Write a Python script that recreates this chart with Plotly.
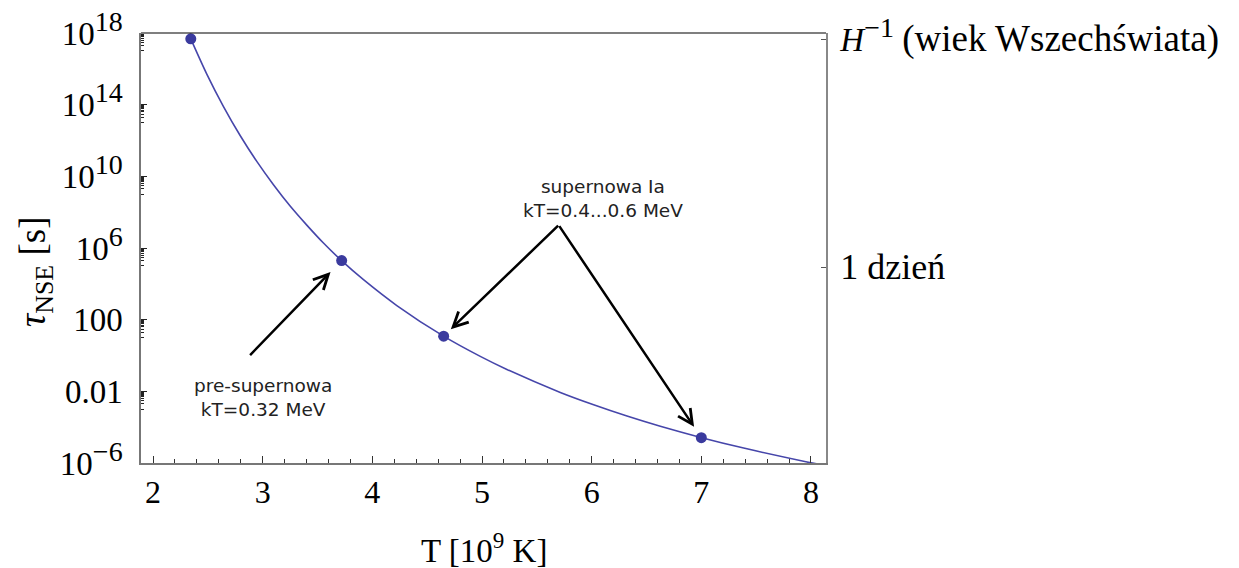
import plotly.graph_objects as go
import math

# Curve samples: temperature [10^9 K] and tau_NSE [s]
T_curve = [2.344, 2.49, 2.641, 2.794, 2.946, 3.098, 3.25, 3.402, 3.554, 3.722,
           3.919, 4.223, 4.649, 4.984, 5.227, 5.714, 6.018, 6.322, 6.626, 7.012,
           7.386, 7.964, 8.05]
tau_curve = [4.7e17, 5.1e15, 8.1e13, 1.9e12, 6.8e10, 3.4e9, 2.2e8, 1.9e7, 1.9e6, 1.9e5,
             1.7e4, 615, 12.0, 0.89, 0.166, 8.7e-3, 1.78e-3, 4.17e-4, 1.12e-4, 2.5e-5,
             6.8e-6, 1.15e-6, 9.1e-7]

# Marked points
T_points = [2.344, 3.72, 4.65, 7.0]
tau_points = [4.7e17, 2.0e5, 12.0, 2.6e-5]

# Axis ticks
x_ticks = [2, 3, 4, 5, 6, 7, 8]
y_tickvals = [1e18, 1e14, 1e10, 1e6, 100, 0.01, 1e-6]
SUP = "<sup><span style='font-size:28px'>{}</span></sup>"
y_ticktext = ["10" + SUP.format("18"), "10" + SUP.format("14"), "10" + SUP.format("10"),
              "10" + SUP.format("6"), "100", "0.01", "10" + SUP.format("−6")]
right_tickvals = [4.4e17, 86400]
right_ticktext = ["<i>H</i><sup><span style='font-size:28px'>−1</span></sup> "
                  "<span style='font-size:37px'>(wiek Wszechświata)</span>",
                  "<span style='font-size:36px'>1 dzień</span>"]

# minor ticks below each labelled decade
y_minor = []
for v in y_tickvals:
    k = round(math.log10(v))
    for m in range(1, 10):
        y_minor.append(m * 10 ** (k - 1))

line_col = "#4646AA"
dot_col = "#3A3A9E"
serif = "Liberation Serif, DejaVu Serif, serif"

fig = go.Figure()
fig.add_trace(go.Scatter(x=T_curve, y=tau_curve, mode="lines",
                         line=dict(color=line_col, width=1.6, shape="spline", smoothing=0.8),
                         showlegend=False, hoverinfo="skip"))
fig.add_trace(go.Scatter(x=T_points, y=tau_points, mode="markers",
                         marker=dict(color=dot_col, size=11),
                         showlegend=False))
# invisible trace to activate right axis
fig.add_trace(go.Scatter(x=[T_points[0]], y=[tau_points[0]], yaxis="y2", mode="markers",
                         marker=dict(opacity=0), showlegend=False, hoverinfo="skip"))

fig.update_layout(
    width=1239, height=568,
    margin=dict(l=141, r=413, t=33, b=105, autoexpand=False),
    plot_bgcolor="white", paper_bgcolor="white",
    xaxis=dict(range=[1.89, 8.137], tickvals=x_ticks, ticks="inside", ticklen=7,
               tickcolor="#333", tickwidth=1, showline=True, linecolor="#777",
               linewidth=1.5, showgrid=False, zeroline=False, automargin=False,
               tickfont=dict(family=serif, size=32, color="black"),
               minor=dict(dtick=0.2, tick0=2, ticks="inside", ticklen=4, tickcolor="#333",
                          showgrid=False)),
    yaxis=dict(type="log", range=[-6, 18], tickvals=y_tickvals, ticktext=y_ticktext,
               ticks="inside", ticklen=6, tickcolor="#222", showline=True, linecolor="#777",
               linewidth=1.5, showgrid=False, zeroline=False, automargin=False,
               tickfont=dict(family=serif, size=33, color="black"),
               ticklabelstandoff=10,
               minor=dict(tickmode="array", tickvals=y_minor, ticks="inside", ticklen=3,
                          tickcolor="#222", showgrid=False)),
    yaxis2=dict(type="log", range=[-6, 18], overlaying="y", side="right",
                tickvals=right_tickvals, ticktext=right_ticktext, ticks="inside",
                ticklen=5, tickcolor="#555", showline=True, linecolor="#888",
                linewidth=1.5, showgrid=False, zeroline=False, automargin=False,
                tickfont=dict(family=serif, size=33, color="black"),
                ticklabelstandoff=6),
)

# top frame line
fig.add_shape(type="line", xref="paper", yref="paper", x0=0, x1=1, y0=1, y1=1,
              line=dict(color="black", width=1.2))

sans = "DejaVu Sans, sans-serif"
fig.add_annotation(x=3.004, y=-2.35, xref="x", yref="y",
                   text="pre-supernowa<br>kT=0.32 MeV", showarrow=False,
                   font=dict(family=sans, size=18.5, color="#222"))
fig.add_annotation(x=6.1, y=8.75, xref="x", yref="y",
                   text="supernowa Ia<br>kT=0.4...0.6 MeV", showarrow=False,
                   font=dict(family=sans, size=18.5, color="#222"))

arrow_specs = [(1, -93, 96, 16), (2, 116, -112, 10), (3, -143, -213, 13)]
for i, ax, ay, so in arrow_specs:
    fig.add_annotation(x=T_points[i], y=math.log10(tau_points[i]), xref="x", yref="y",
                       ax=ax, ay=ay, text="", showarrow=True, arrowhead=5,
                       arrowsize=1.15, arrowwidth=2.5, arrowcolor="black", standoff=so)

fig.add_annotation(x=0, y=0.5, xref="paper", yref="paper", xshift=-106, yshift=-24,
                   xanchor="center", yanchor="middle",
                   text="<i>τ</i><sub>NSE</sub> [s]", textangle=-90, showarrow=False,
                   font=dict(family=serif, size=37, color="black"))
fig.add_annotation(x=0.5, y=0, xref="paper", yref="paper", yshift=-85,
                   text="T [10<sup>9</sup> K]", showarrow=False, yanchor="middle",
                   font=dict(family=serif, size=33, color="black"))

fig.write_html("out.html")
